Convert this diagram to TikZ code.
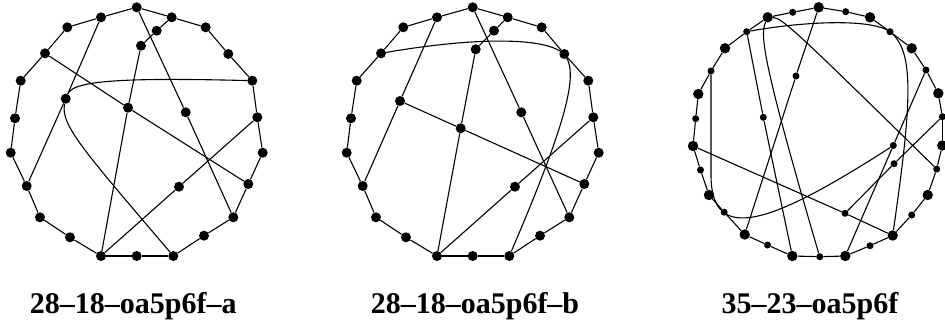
\documentclass[tikz,border=0pt]{standalone}
\usepackage{fontspec}
\setmainfont{Liberation Serif}
\usetikzlibrary{positioning}

% outer ring shared by the two 28-vertex graphs
\def\ringab{136.7/7.3, 171.7/17.3, 205.7/27.3, 228.3/54, 252.3/80.7,
    257.3/117.3, 262.7/152.7, 248.3/184, 233.3/217.3, 204/235.7,
    173.3/256, 136.7/256, 101/256, 70/237.3, 40/217.3, 26.7/186,
    10.7/152.7, 15/118.3, 20.7/80.7, 45/53.3, 67.3/27.3, 101/17.3}
% outer ring of the 35-vertex graph
\def\ringc{818.7/7.3, 845.7/11.7, 870/17.3, 890/31.7, 911.7/48.3,
    926/70, 938.3/93.3, 942.3/116.7, 942.3/145.5, 936.7/169,
    927.7/195, 911.7/215, 892.7/235.5, 870/245.7, 845.3/256,
    819.7/256.7, 792.3/256, 767.5/245, 744.7/234.5, 724.2/212.2,
    709/195, 700.5/170, 693/146, 695.7/118.7, 698.3/94,
    711/71, 725/48.3, 746.7/31.7, 767.7/17.3, 792.7/12.3}

\tikzset{
    vtx/.style={circle, fill=black, inner sep=0pt, minimum size=10pt},
    bigvtx/.style={vtx, minimum size=10.4pt},
    smallvtx/.style={vtx, minimum size=7pt},
    link/.style={line width=1.1pt},
    graphname/.style={font=\fontsize{30}{36}\selectfont\bfseries,
        anchor=base, inner sep=0pt}
}

\begin{document}
\begin{tikzpicture}[
    x=1pt,
    y=-1pt
]

\clip (0,0) rectangle (945,327);

% Graph 28-18-oa5p6f-a
\foreach \x/\y [count=\i] in \ringab
    \node[vtx] (a\i) at (\x,\y) {};
\foreach \i [remember=\i as \j (initially 22)] in {1,...,22}
    \draw[link] (a\j) -- (a\i);

\node[vtx] (p1) at (156.7,30.7) {};
\node[vtx] (p2) at (141,45.7) {};
\node[vtx] (p3) at (65.7,98.7) {};
\node[vtx] (p4) at (128,107.7) {};
\node[vtx] (p5) at (185.7,112.3) {};
\node[vtx] (p6) at (179,186.7) {};

\draw[link] (a2) -- (p1) -- (p2) -- (p4) -- (a13);
\draw[link] (a20) -- (p4) -- (a8);
\draw[link] (a22) -- (p3) -- (a16);
\draw[link] (a1) -- (p5) -- (a9);
\draw[link] (a6) -- (p6) -- (a13);
\draw[link] (p3) .. controls (73,82) and (110,77) .. (a5);
\draw[link] (p3) .. controls (60,125) and (85,152) .. (a11);

% Graph 28-18-oa5p6f-b
\begin{scope}[xshift=336pt]
\foreach \x/\y [count=\i] in \ringab
    \node[vtx] (b\i) at (\x,\y) {};
\foreach \i [remember=\i as \j (initially 22)] in {1,...,22}
    \draw[link] (b\j) -- (b\i);

\node[vtx] (q1) at (158,30.7) {};
\node[vtx] (q2) at (139.7,49.3) {};
\node[vtx] (q3) at (64,101) {};
\node[vtx] (q4) at (124.7,128.3) {};
\node[vtx] (q5) at (185.3,112.3) {};
\node[vtx] (q6) at (179,186.7) {};

\draw[link] (b2) -- (q1) -- (q2) -- (q4) -- (b13);
\draw[link] (q3) -- (q4) -- (b8);
\draw[link] (b22) -- (q3) -- (b16);
\draw[link] (b1) -- (q5) -- (b9);
\draw[link] (b6) -- (q6) -- (b13);
\draw[link] (b20) .. controls (134,38) and (209,36) .. (228,54)
    .. controls (242,70) and (236,110) .. (b11);
\end{scope}

% Graph 35-23-oa5p6f
\foreach \x/\y [count=\i] in \ringc {
    \ifodd\i\relax
        \node[bigvtx] (c\i) at (\x,\y) {};
    \else
        \node[smallvtx] (c\i) at (\x,\y) {};
    \fi
}
\foreach \i [remember=\i as \j (initially 30)] in {1,...,30}
    \draw[link] (c\j) -- (c\i);

\node[smallvtx] (r1) at (796,76) {};
\node[smallvtx] (r2) at (763.3,117.3) {};
\node[smallvtx] (r3) at (893.3,145.5) {};
\node[smallvtx] (r4) at (894,163.7) {};
\node[smallvtx] (r5) at (845,213.3) {};

\draw[link] (c1) -- (r1) -- (c19);
\draw[link] (c28) -- (r2) -- (c17);
\draw[link] (c6) -- (r3) -- (c15);
\draw[link] (c8) -- (r4) -- (r5) -- (c13);
\draw[link] (c23) -- (r5);
\draw[link] (c29) .. controls (782,18) and (795,30) .. (c10);
\draw[link] (c29) .. controls (760,35) and (762,60) .. (c16);
\draw[link] (c28) .. controls (800,22) and (868,18) .. (889,31)
    .. controls (915,50) and (912,100) .. (c13);
\draw[link] (c26) -- (711,175) .. controls (711,245) and (770,225) .. (r3);

% Names
\node[graphname] (t1) at (133.3,313.3) {28--18--oa5p6f--a};
\node[graphname] (t2) at (475,313.3) {28--18--oa5p6f--b};
\node[graphname] (t3) at (810,313.3) {35--23--oa5p6f};

\end{tikzpicture}
\end{document}
